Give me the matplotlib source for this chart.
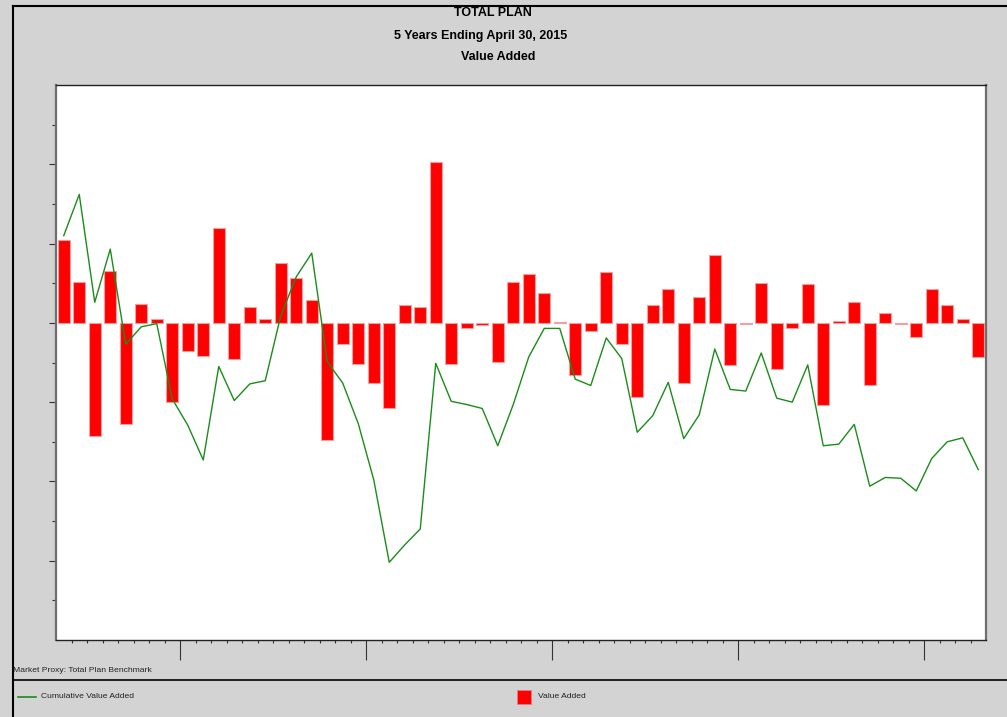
import numpy as np
import matplotlib
matplotlib.use('Agg')
import matplotlib.pyplot as plt
from matplotlib.lines import Line2D
from matplotlib.patches import Rectangle
from matplotlib.ticker import FixedLocator

plt.rcParams['font.family'] = ['Liberation Sans', 'DejaVu Sans']

# months May 2010 .. Apr 2015
months = [m.strftime('%b %Y') for m in
          np.array(np.arange('2010-05', '2015-05', dtype='datetime64[M]')).astype('datetime64[D]').tolist()]

value_added = [1.05, 0.52, -1.43, 0.66, -1.27, 0.24, 0.05, -1.00, -0.35, -0.42,
               1.20, -0.45, 0.20, 0.05, 0.76, 0.57, 0.29, -1.48, -0.27, -0.52,
               -0.76, -1.07, 0.23, 0.20, 2.03, -0.52, -0.06, -0.03, -0.49, 0.52,
               0.62, 0.38, 0.01, -0.66, -0.10, 0.64, -0.27, -0.93, 0.22, 0.43,
               -0.76, 0.32, 0.85, -0.53, -0.01, 0.50, -0.58, -0.07, 0.49, -1.04,
               0.02, 0.26, -0.78, 0.12, -0.02, -0.18, 0.43, 0.22, 0.05, -0.43]

cumulative = [1.10, 1.62, 0.26, 0.93, -0.27, -0.05, -0.01, -0.96, -1.29, -1.73,
              -0.55, -0.98, -0.77, -0.73, 0.09, 0.58, 0.88, -0.49, -0.76, -1.27,
              -1.98, -3.02, -2.80, -2.60, -0.51, -0.99, -1.03, -1.08, -1.55, -1.03,
              -0.43, -0.07, -0.07, -0.71, -0.79, -0.19, -0.45, -1.38, -1.17, -0.75,
              -1.46, -1.16, -0.33, -0.84, -0.86, -0.38, -0.95, -1.00, -0.53, -1.55,
              -1.53, -1.28, -2.06, -1.95, -1.96, -2.12, -1.71, -1.50, -1.45, -1.85]

y_major = [2, 1, 0, -1, -2, -3]
y_minor = [2.5, 1.5, 0.5, -0.5, -1.5, -2.5, -3.5]

W, H = 1007, 717
fig = plt.figure(figsize=(W / 100, H / 100), dpi=100, facecolor='#d3d3d3')

# plot area in pixels: left 56, top 85, right 986, bottom 640
ax = fig.add_axes([56 / W, 1 - 640 / H, (986 - 56) / W, (640 - 85) / H])
ax.set_facecolor('white')

x = np.arange(len(months))
ax.bar(x, value_added, width=0.78, color='#ff0000', edgecolor='#f0a0a0', linewidth=0.8, zorder=2)
ax.plot(x, cumulative, color='#1a8c1a', linewidth=1.0, zorder=3)

ax.set_xlim(-0.5, len(months) - 0.5)
ax.set_ylim(-4, 3)

# y ticks, no labels
ax.yaxis.set_major_locator(FixedLocator(y_major))
ax.yaxis.set_minor_locator(FixedLocator(y_minor))
ax.tick_params(axis='y', which='major', length=5, width=0.8, color='#333333', labelleft=False)
ax.tick_params(axis='y', which='minor', length=3, width=0.8, color='#333333')

# x ticks: yearly majors, monthly minors
year_starts = [i - 0.5 for i, m in enumerate(months) if m.startswith('Jan')]
ax.xaxis.set_major_locator(FixedLocator(year_starts))
ax.xaxis.set_minor_locator(FixedLocator(np.arange(0.5, len(months) - 0.5, 1)))
ax.tick_params(axis='x', which='major', length=14.5, width=0.8, color='#333333', labelbottom=False)
ax.tick_params(axis='x', which='minor', length=2, width=0.8, color='#333333')

for side in ['left', 'right']:
    ax.spines[side].set_color('#6e6e6e')
    ax.spines[side].set_linewidth(1.6)
for side in ['top', 'bottom']:
    ax.spines[side].set_color('#222222')
    ax.spines[side].set_linewidth(1.0)

# outer frame lines
def fx(px):
    return px / W
def fy(py):
    return 1 - py / H

fig.add_artist(Line2D([fx(13), 1], [fy(6), fy(6)], color='black', lw=1.5))
fig.add_artist(Line2D([fx(13), fx(13)], [fy(6), 0], color='black', lw=1.5))
fig.add_artist(Line2D([fx(13), 1], [fy(680), fy(680)], color='black', lw=1.2))

# titles
fig.text(fx(493), fy(13), 'TOTAL PLAN', ha='center', va='center', fontsize=9, fontweight='bold')
fig.text(fx(481), fy(36), '5 Years Ending April 30, 2015', ha='center', va='center', fontsize=9, fontweight='bold')
fig.text(fx(498), fy(57), 'Value Added', ha='center', va='center', fontsize=9, fontweight='bold')

fig.text(fx(13), fy(671), 'Market Proxy: Total Plan Benchmark', ha='left', va='center', fontsize=6.1, color='#222222')

# legend
fig.add_artist(Line2D([fx(18), fx(36)], [fy(697), fy(697)], color='#1a8c1a', lw=1.2))
fig.text(fx(41), fy(696), 'Cumulative Value Added', ha='left', va='center', fontsize=6.1, color='#222222')
fig.add_artist(Rectangle((fx(517), fy(704)), 14 / W, 14 / H, facecolor='#ff0000',
                         edgecolor='#e08080', lw=0.6, transform=fig.transFigure))
fig.text(fx(538), fy(696), 'Value Added', ha='left', va='center', fontsize=6.1, color='#222222')

fig.savefig('out.png', dpi=100, facecolor=fig.get_facecolor())
